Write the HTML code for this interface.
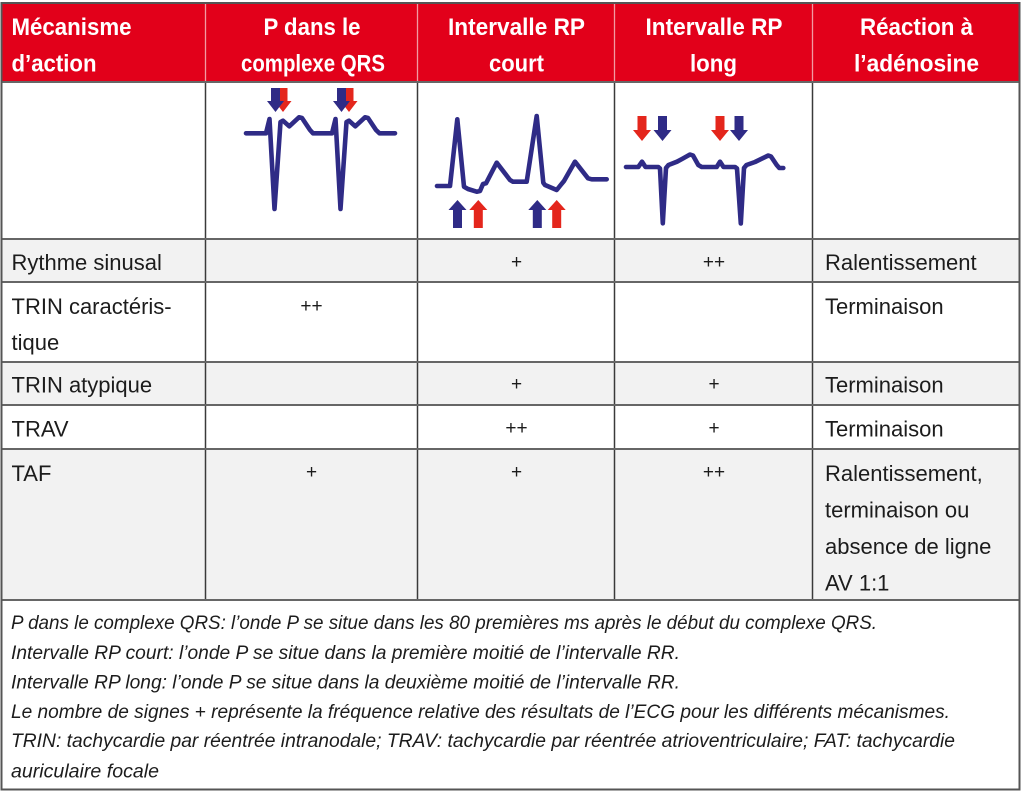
<!DOCTYPE html>
<html>
<head>
<meta charset="utf-8">
<style>
  html,body{margin:0;padding:0;background:#fff;}
  svg{display:block;}
  .h{font-family:"Liberation Sans",sans-serif;font-weight:bold;font-size:24.5px;fill:#fff;}
  .b{font-family:"Liberation Sans",sans-serif;font-size:22px;fill:#1c1c1c;}
  .p{font-family:"Liberation Sans",sans-serif;font-size:19px;fill:#1c1c1c;}
  .f{font-family:"Liberation Sans",sans-serif;font-style:italic;font-size:19.5px;fill:#1c1c1c;}
</style>
</head>
<body>
<svg width="1024" height="801" viewBox="0 0 1024 801" xmlns="http://www.w3.org/2000/svg">
  <rect x="0" y="0" width="1024" height="801" fill="#fff"/>
  <rect x="2" y="3" width="1017" height="79" fill="#e2001a"/>
  <rect x="2" y="239" width="1017" height="43" fill="#f2f2f2"/>
  <rect x="2" y="362" width="1017" height="43" fill="#f2f2f2"/>
  <rect x="2" y="449" width="1017" height="151" fill="#f2f2f2"/>

  <g stroke="#f29aa2" stroke-width="1.3">
    <line x1="205.5" y1="4" x2="205.5" y2="82"/>
    <line x1="417.5" y1="4" x2="417.5" y2="82"/>
    <line x1="614.5" y1="4" x2="614.5" y2="82"/>
    <line x1="812.5" y1="4" x2="812.5" y2="82"/>
  </g>
  <g stroke="#3a3a3a" stroke-width="1.5">
    <line x1="205.5" y1="82" x2="205.5" y2="600"/>
    <line x1="417.5" y1="82" x2="417.5" y2="600"/>
    <line x1="614.5" y1="82" x2="614.5" y2="600"/>
    <line x1="812.5" y1="82" x2="812.5" y2="600"/>
  </g>
  <g stroke="#666" stroke-width="2">
    <line x1="1" y1="82" x2="1020" y2="82"/>
    <line x1="1" y1="239" x2="1020" y2="239"/>
    <line x1="1" y1="282" x2="1020" y2="282"/>
    <line x1="1" y1="362" x2="1020" y2="362"/>
    <line x1="1" y1="405" x2="1020" y2="405"/>
    <line x1="1" y1="449" x2="1020" y2="449"/>
    <line x1="1" y1="600" x2="1020" y2="600"/>
  </g>
  <rect x="1.5" y="3" width="1018" height="786.5" fill="none" stroke="#555" stroke-width="2"/>

  <text class="h" x="11.5" y="35" textLength="120" lengthAdjust="spacingAndGlyphs">Mécanisme</text>
  <text class="h" x="11.5" y="71.5" textLength="85" lengthAdjust="spacingAndGlyphs">d’action</text>
  <text class="h" x="312" y="35" text-anchor="middle" textLength="97" lengthAdjust="spacingAndGlyphs">P dans le</text>
  <text class="h" x="313" y="71.5" text-anchor="middle" textLength="144" lengthAdjust="spacingAndGlyphs">complexe QRS</text>
  <text class="h" x="516.5" y="35" text-anchor="middle" textLength="137" lengthAdjust="spacingAndGlyphs">Intervalle RP</text>
  <text class="h" x="516.5" y="71.5" text-anchor="middle" textLength="55" lengthAdjust="spacingAndGlyphs">court</text>
  <text class="h" x="714" y="35" text-anchor="middle" textLength="137" lengthAdjust="spacingAndGlyphs">Intervalle RP</text>
  <text class="h" x="713.5" y="71.5" text-anchor="middle" textLength="47" lengthAdjust="spacingAndGlyphs">long</text>
  <text class="h" x="916.5" y="35" text-anchor="middle" textLength="113" lengthAdjust="spacingAndGlyphs">Réaction à</text>
  <text class="h" x="916.5" y="71.5" text-anchor="middle" textLength="125" lengthAdjust="spacingAndGlyphs">l’adénosine</text>

  <!-- ECG column 2 -->
  <g fill="#e4261c">
    <path d="M278.5,88 L287.5,88 L287.5,101 L291.5,101 L283,112 L274.5,101 L278.5,101 Z"/>
    <path d="M344.5,88 L353.5,88 L353.5,101 L357.5,101 L349,112 L340.5,101 L344.5,101 Z"/>
  </g>
  <g fill="#2f2b86">
    <path d="M271,88 L280,88 L280,101 L284,101 L275.5,112 L267,101 L271,101 Z"/>
    <path d="M337,88 L346,88 L346,101 L350,101 L341.5,112 L333,101 L337,101 Z"/>
  </g>
  <polyline fill="none" stroke="#2f2b86" stroke-width="4.6" stroke-linejoin="round" stroke-linecap="round"
    points="246,133.3 266,133.3 269.5,119 274.5,209 280.5,122 283,120.7 289.3,126.3 299,117.3 302,118 310,130 313,133.3 332,133.3 335.5,119 340.5,209 346.5,122 349,120.7 355.3,126.3 365,117.3 368,118 376,130 379.5,133.3 395,133.3"/>

  <!-- ECG column 3 -->
  <polyline fill="none" stroke="#2f2b86" stroke-width="4.6" stroke-linejoin="round" stroke-linecap="round"
    points="437,186 450,186 457.3,119.3 464,186.7 468,189 476.7,191.7 480,191 483,184 486,183.3 496.7,162.7 510,180 513,181.7 526.7,181.7 536.7,116 543.3,182.7 545,185 556.7,190 560.7,185 564,181 575,161.7 588,178.3 591.7,179.3 606.7,179.3"/>
  <g>
    <path fill="#2f2b86" d="M457.5,200 L466.5,210 L462,210 L462,228 L453,228 L453,210 L448.5,210 Z"/>
    <path fill="#e4261c" d="M478.3,200 L487.3,210 L482.8,210 L482.8,228 L473.8,228 L473.8,210 L469.3,210 Z"/>
    <path fill="#2f2b86" d="M537.3,200 L546.3,210 L541.8,210 L541.8,228 L532.8,228 L532.8,210 L528.3,210 Z"/>
    <path fill="#e4261c" d="M556.7,200 L565.7,210 L561.2,210 L561.2,228 L552.2,228 L552.2,210 L547.7,210 Z"/>
  </g>

  <!-- ECG column 4 -->
  <g>
    <path fill="#e4261c" d="M637.5,116 L646.5,116 L646.5,130 L651,130 L642,141 L633,130 L637.5,130 Z"/>
    <path fill="#2f2b86" d="M658,116 L667,116 L667,130 L671.5,130 L662.5,141 L653.5,130 L658,130 Z"/>
    <path fill="#e4261c" d="M715.5,116 L724.5,116 L724.5,130 L729,130 L720,141 L711,130 L715.5,130 Z"/>
    <path fill="#2f2b86" d="M734.5,116 L743.5,116 L743.5,130 L748,130 L739,141 L730,130 L734.5,130 Z"/>
  </g>
  <polyline fill="none" stroke="#2f2b86" stroke-width="4.6" stroke-linejoin="round" stroke-linecap="round"
    points="626,167 638.3,167 642,161.7 645.5,167 658.3,167 660,168.5 662.8,223.3 666,168 668.5,165 677,161.7 682,159 690,154.5 693,155.5 698.3,165 701.7,167 716.7,167 720,161.7 723.5,167 735,167 737,168.5 740.8,223.5 744,168 746.5,165 755,162 768.3,155.5 771,156.5 776.7,165 779.3,168 783.3,168"/>

  <text class="b" x="11.5" y="270">Rythme sinusal</text>
  <text class="b" x="11.5" y="314">TRIN caractéris-</text>
  <text class="b" x="11.5" y="350">tique</text>
  <text class="b" x="11.5" y="392.5">TRIN atypique</text>
  <text class="b" x="11.5" y="436.5">TRAV</text>
  <text class="b" x="11.5" y="481">TAF</text>

  <text class="b" x="825" y="270">Ralentissement</text>
  <text class="b" x="825" y="314">Terminaison</text>
  <text class="b" x="825" y="392.5">Terminaison</text>
  <text class="b" x="825" y="436.5">Terminaison</text>
  <text class="b" x="825" y="481">Ralentissement,</text>
  <text class="b" x="825" y="517.5">terminaison ou</text>
  <text class="b" x="825" y="554">absence de ligne</text>
  <text class="b" x="825" y="590.5">AV 1:1</text>

  <g class="p" text-anchor="middle">
    <text class="p" x="516.5" y="268">+</text>
    <text class="p" x="714" y="268">++</text>
    <text class="p" x="311.5" y="312">++</text>
    <text class="p" x="516.5" y="390">+</text>
    <text class="p" x="714" y="390">+</text>
    <text class="p" x="516.5" y="434">++</text>
    <text class="p" x="714" y="434">+</text>
    <text class="p" x="311.5" y="478">+</text>
    <text class="p" x="516.5" y="478">+</text>
    <text class="p" x="714" y="478">++</text>
  </g>

  <text class="f" x="11" y="629" textLength="866" lengthAdjust="spacingAndGlyphs">P dans le complexe QRS: l’onde P se situe dans les 80 premières ms après le début du complexe QRS.</text>
  <text class="f" x="11" y="659" textLength="669" lengthAdjust="spacingAndGlyphs">Intervalle RP court: l’onde P se situe dans la première moitié de l’intervalle RR.</text>
  <text class="f" x="11" y="688.5" textLength="669" lengthAdjust="spacingAndGlyphs">Intervalle RP long: l’onde P se situe dans la deuxième moitié de l’intervalle RR.</text>
  <text class="f" x="11" y="718" textLength="939" lengthAdjust="spacingAndGlyphs">Le nombre de signes + représente la fréquence relative des résultats de l’ECG pour les différents mécanismes.</text>
  <text class="f" x="11" y="747" textLength="944" lengthAdjust="spacingAndGlyphs">TRIN: tachycardie par réentrée intranodale; TRAV: tachycardie par réentrée atrioventriculaire; FAT: tachycardie</text>
  <text class="f" x="11" y="777.5" textLength="148" lengthAdjust="spacingAndGlyphs">auriculaire focale</text>
</svg>
</body>
</html>
